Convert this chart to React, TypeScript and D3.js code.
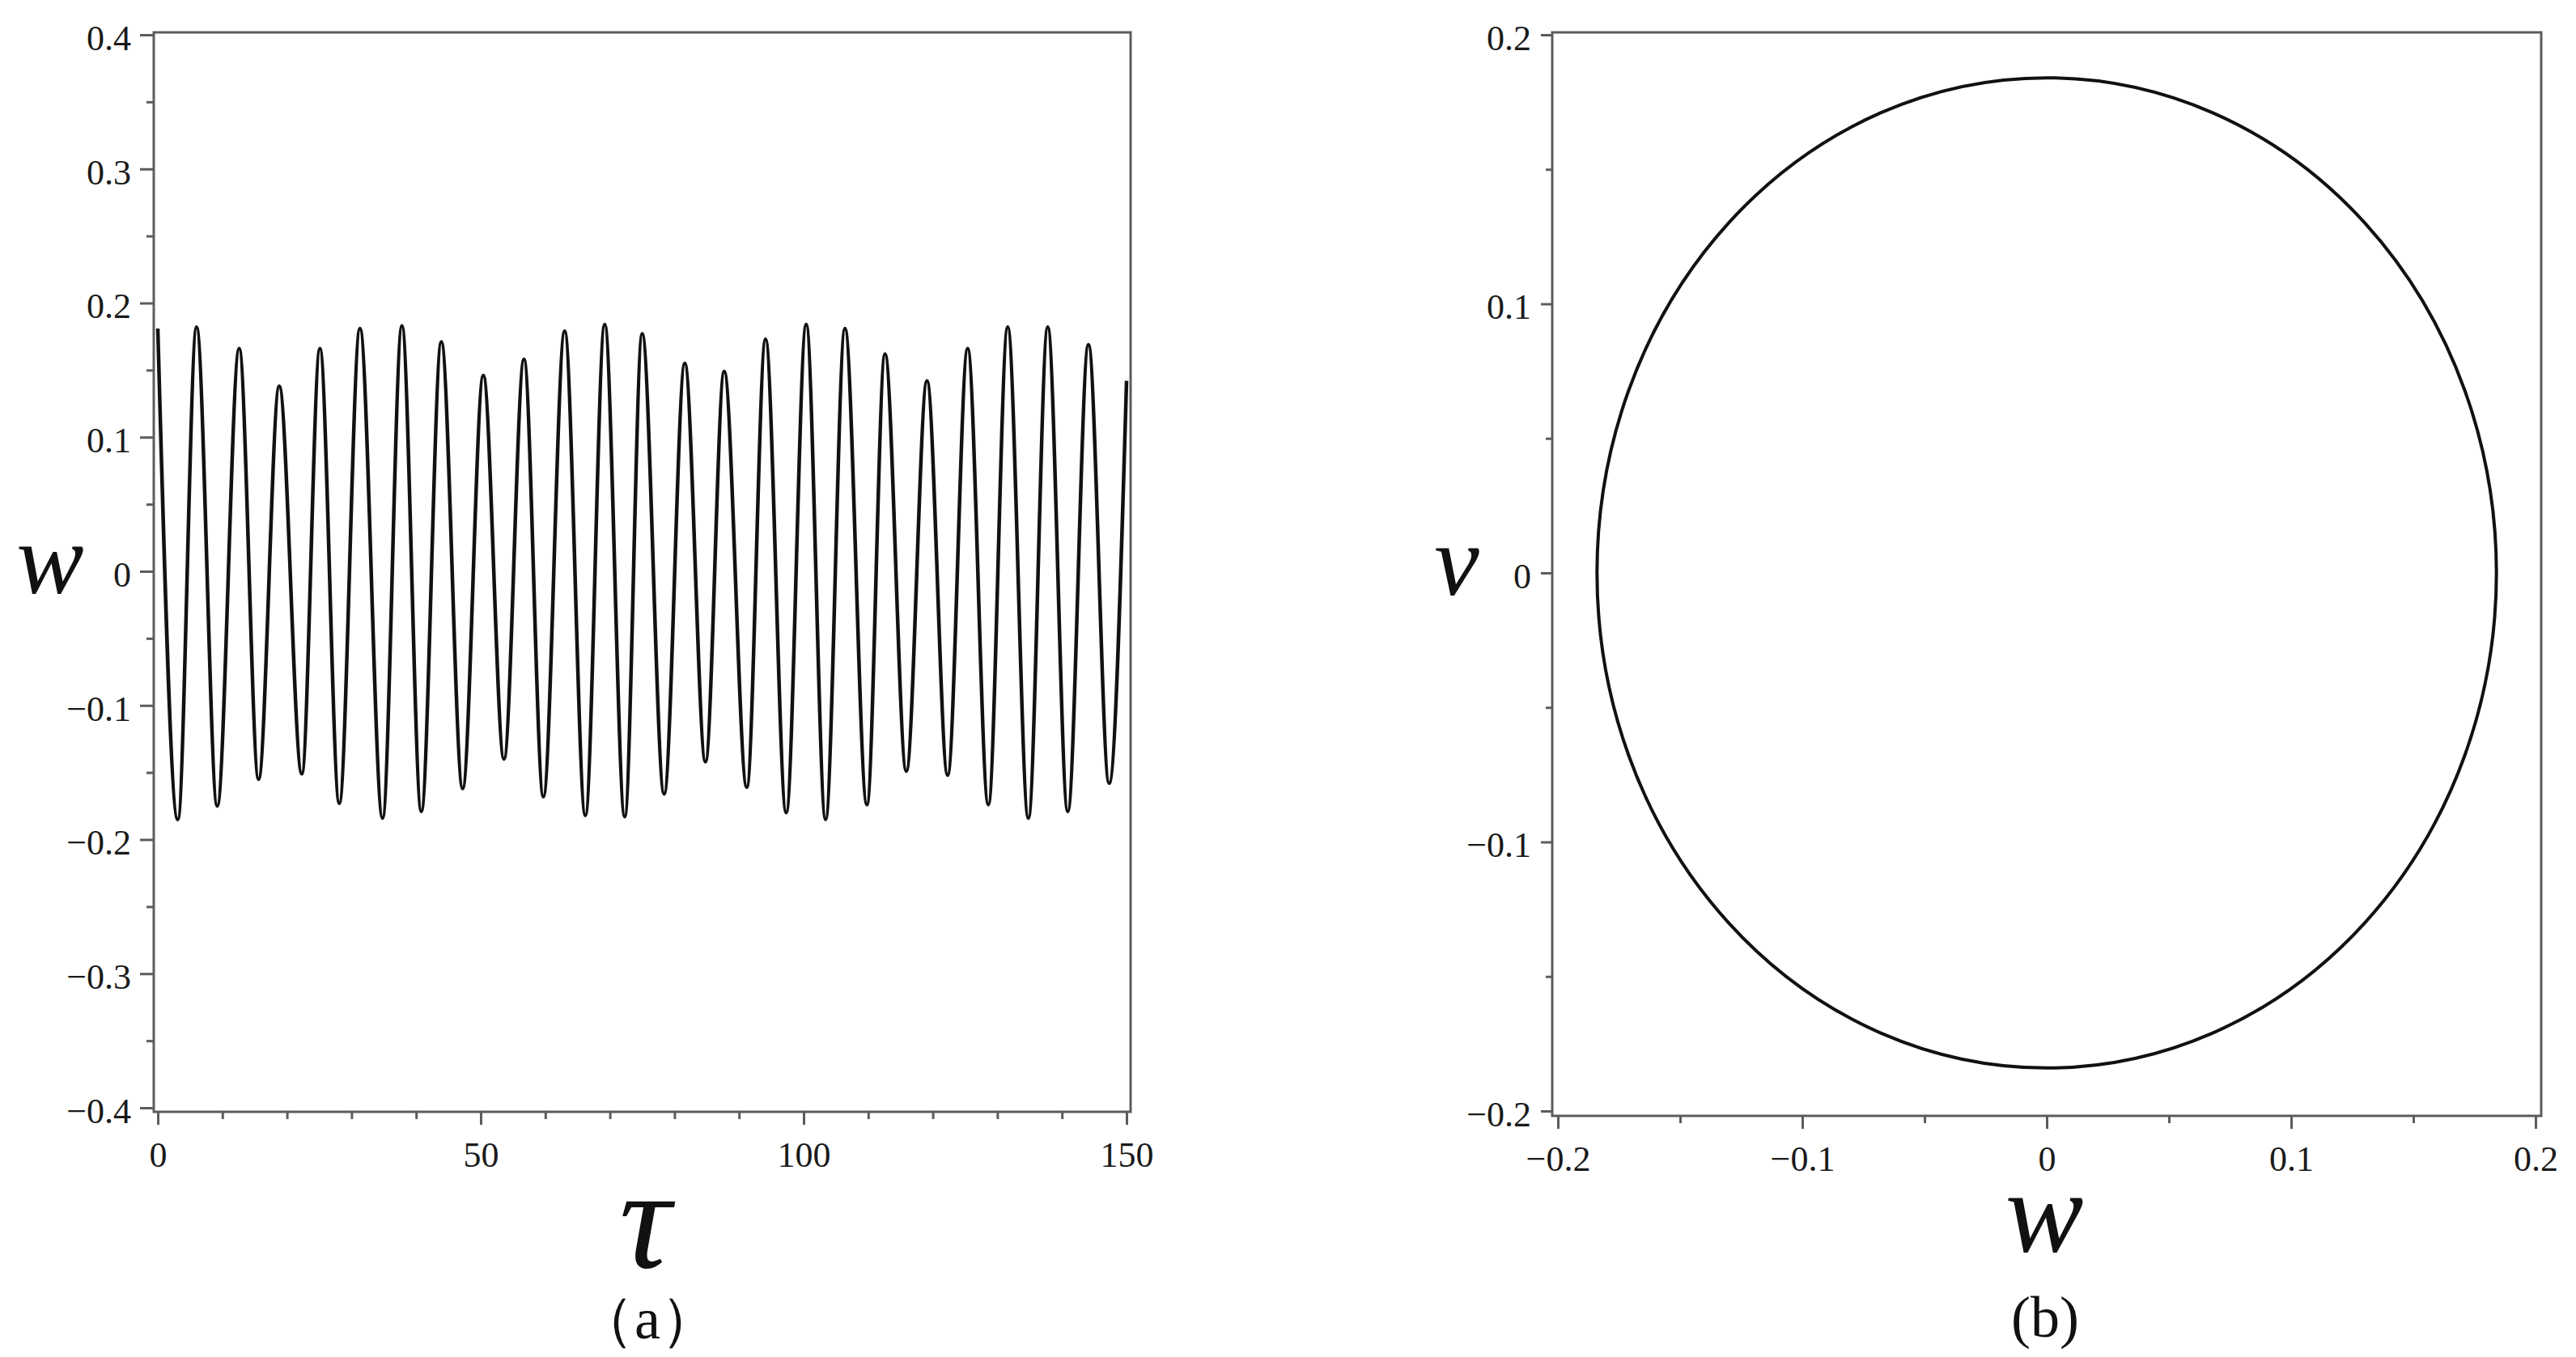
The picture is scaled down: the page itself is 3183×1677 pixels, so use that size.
import React, { useEffect, useRef } from "react";
import * as d3 from "d3";

// ---- Data ----
// Panel (a): w(τ) time history — local maxima and minima
const tauPeaks = [0, 6.0, 12.6, 18.8, 25.1, 31.3, 37.8, 43.9, 50.4, 56.7, 63.0, 69.2, 75.0, 81.6, 87.7, 94.1, 100.4, 106.4, 112.6, 119.1, 125.4, 131.6, 137.8, 144.1];
const wPeaks = [0.181, 0.182, 0.166, 0.138, 0.166, 0.181, 0.183, 0.171, 0.146, 0.158, 0.179, 0.184, 0.177, 0.155, 0.149, 0.173, 0.184, 0.181, 0.162, 0.142, 0.166, 0.182, 0.182, 0.169];
const tauTroughs = [3.1, 9.2, 15.6, 22.3, 28.1, 34.8, 40.8, 47.2, 53.6, 59.7, 66.2, 72.3, 78.4, 84.8, 91.2, 97.3, 103.4, 109.8, 115.9, 122.3, 128.6, 134.8, 140.9, 147.3];
const wTroughs = [-0.185, -0.175, -0.155, -0.151, -0.173, -0.184, -0.179, -0.162, -0.140, -0.168, -0.182, -0.183, -0.166, -0.142, -0.161, -0.180, -0.185, -0.174, -0.149, -0.152, -0.174, -0.184, -0.179, -0.158];
const tauEnd = [150];
const wEnd = [0.142];

// Panel (b): phase portrait (closed orbit)
const orbitCenterW = 0;
const orbitCenterV = 0;
const orbitRadiusW = 0.184;
const orbitRadiusV = 0.184;

// Axes
const aXDomain = [0, 150];
const aYDomain = [-0.4, 0.4];
const aXTicks = [0, 50, 100, 150];
const aXMinor = [10, 20, 30, 40, 60, 70, 80, 90, 110, 120, 130, 140];
const aYTicks = [-0.4, -0.3, -0.2, -0.1, 0, 0.1, 0.2, 0.3, 0.4];
const aYMinor = [-0.35, -0.25, -0.15, -0.05, 0.05, 0.15, 0.25, 0.35];
const bDomain = [-0.2, 0.2];
const bTicks = [-0.2, -0.1, 0, 0.1, 0.2];
const bMinor = [-0.15, -0.05, 0.05, 0.15];

const W = 3183;
const H = 1677;
const AXIS_COLOR = "#5c5c5c";
const SERIF = "'Liberation Serif', 'Times New Roman', serif";

const fmt = (d: number) => (d === 0 ? "0" : d3.format(".1f")(d));
const fmtInt = (d: number) => d3.format("d")(d);

export default function App() {
  const ref = useRef<SVGSVGElement | null>(null);

  useEffect(() => {
    const svg = d3.select(ref.current);
    svg.selectAll("*").remove();

    const styleAxis = (g: any) => {
      g.select(".domain").remove();
      g.selectAll(".tick line").attr("stroke", AXIS_COLOR).attr("stroke-width", 3);
      g.selectAll(".tick text")
        .attr("fill", "#1a1a1a")
        .style("font-family", SERIF)
        .style("font-size", "44px");
    };

    const label = (g: any, x: number, y: number, size: number, txt: string, italic: boolean) =>
      g
        .append("text")
        .attr("x", x)
        .attr("y", y)
        .attr("text-anchor", "middle")
        .style("font-family", SERIF)
        .style("font-style", italic ? "italic" : "normal")
        .style("font-size", `${size}px`)
        .attr("fill", "#111")
        .text(txt);

    // ---------- Panel (a) ----------
    const aFrame = { x0: 190, x1: 1397, y0: 40, y1: 1374 };
    const xa = d3.scaleLinear().domain(aXDomain).range([195, 1392]);
    const ya = d3.scaleLinear().domain(aYDomain).range([1369, 43]);

    const ga = svg.append("g");

    const pts: [number, number][] = [];
    tauPeaks.forEach((t, i) => pts.push([t, wPeaks[i]]));
    tauTroughs.forEach((t, i) => pts.push([t, wTroughs[i]]));
    tauEnd.forEach((t, i) => pts.push([t, wEnd[i]]));
    pts.sort((a, b) => a[0] - b[0]);

    const line = d3
      .line<[number, number]>()
      .x((d) => xa(d[0]))
      .y((d) => ya(d[1]))
      .curve(d3.curveMonotoneX);

    ga.append("path")
      .attr("d", line(pts) as string)
      .attr("fill", "none")
      .attr("stroke", "#111")
      .attr("stroke-width", 4.5)
      .attr("stroke-linejoin", "round");

    ga.append("rect")
      .attr("x", aFrame.x0)
      .attr("y", aFrame.y0)
      .attr("width", aFrame.x1 - aFrame.x0)
      .attr("height", aFrame.y1 - aFrame.y0)
      .attr("fill", "none")
      .attr("stroke", AXIS_COLOR)
      .attr("stroke-width", 3);

    const gaY = ga.append("g").attr("transform", `translate(${aFrame.x0},0)`);
    gaY.call(d3.axisLeft(ya).tickValues(aYTicks).tickSize(17).tickPadding(11).tickFormat(fmt as any));
    gaY.selectAll(".tick text").attr("dy", "0.42em");
    styleAxis(gaY);
    const gaYm = ga.append("g").attr("transform", `translate(${aFrame.x0},0)`);
    gaYm.call(d3.axisLeft(ya).tickValues(aYMinor).tickSize(9).tickFormat(() => ""));
    styleAxis(gaYm);

    const gaX = ga.append("g").attr("transform", `translate(0,${aFrame.y1})`);
    gaX.call(d3.axisBottom(xa).tickValues(aXTicks).tickSize(16).tickPadding(21).tickFormat(fmtInt as any));
    styleAxis(gaX);
    const gaXm = ga.append("g").attr("transform", `translate(0,${aFrame.y1})`);
    gaXm.call(d3.axisBottom(xa).tickValues(aXMinor).tickSize(9).tickFormat(() => ""));
    styleAxis(gaXm);

    label(ga, 797, 1566, 178, "τ", true);
    label(ga, 62, 733, 125, "w", true);
    label(ga, 800, 1654, 72, "（a）", false);

    // ---------- Panel (b) ----------
    const bFrame = { x0: 1918, x1: 3140, y0: 40, y1: 1379 };
    const xb = d3.scaleLinear().domain(bDomain).range([1925, 3133]);
    const yb = d3.scaleLinear().domain(bDomain).range([1373, 43]);

    const gb = svg.append("g");
    gb.append("ellipse")
      .attr("cx", xb(orbitCenterW))
      .attr("cy", yb(orbitCenterV))
      .attr("rx", xb(orbitCenterW + orbitRadiusW) - xb(orbitCenterW))
      .attr("ry", yb(orbitCenterV) - yb(orbitCenterV + orbitRadiusV))
      .attr("fill", "none")
      .attr("stroke", "#111")
      .attr("stroke-width", 4);

    gb.append("rect")
      .attr("x", bFrame.x0)
      .attr("y", bFrame.y0)
      .attr("width", bFrame.x1 - bFrame.x0)
      .attr("height", bFrame.y1 - bFrame.y0)
      .attr("fill", "none")
      .attr("stroke", AXIS_COLOR)
      .attr("stroke-width", 3);

    const gbY = gb.append("g").attr("transform", `translate(${bFrame.x0},0)`);
    gbY.call(d3.axisLeft(yb).tickValues(bTicks).tickSize(14).tickPadding(12).tickFormat(fmt as any));
    gbY.selectAll(".tick text").attr("dy", "0.42em");
    styleAxis(gbY);
    const gbYm = gb.append("g").attr("transform", `translate(${bFrame.x0},0)`);
    gbYm.call(d3.axisLeft(yb).tickValues(bMinor).tickSize(8).tickFormat(() => ""));
    styleAxis(gbYm);

    const gbX = gb.append("g").attr("transform", `translate(0,${bFrame.y1})`);
    gbX.call(d3.axisBottom(xb).tickValues(bTicks).tickSize(16).tickPadding(21).tickFormat(fmt as any));
    styleAxis(gbX);
    const gbXm = gb.append("g").attr("transform", `translate(0,${bFrame.y1})`);
    gbXm.call(d3.axisBottom(xb).tickValues(bMinor).tickSize(9).tickFormat(() => ""));
    styleAxis(gbXm);

    label(gb, 1800, 735, 125, "v", true);
    label(gb, 2526, 1547, 145, "w", true);
    label(gb, 2527, 1652, 72, "(b)", false);
  }, []);

  return (
    <div style={{ position: "absolute", left: 0, top: 0, width: W, height: H, background: "#fff" }}>
      <svg ref={ref} width={W} height={H} viewBox={`0 0 ${W} ${H}`} style={{ display: "block" }} />
    </div>
  );
}
